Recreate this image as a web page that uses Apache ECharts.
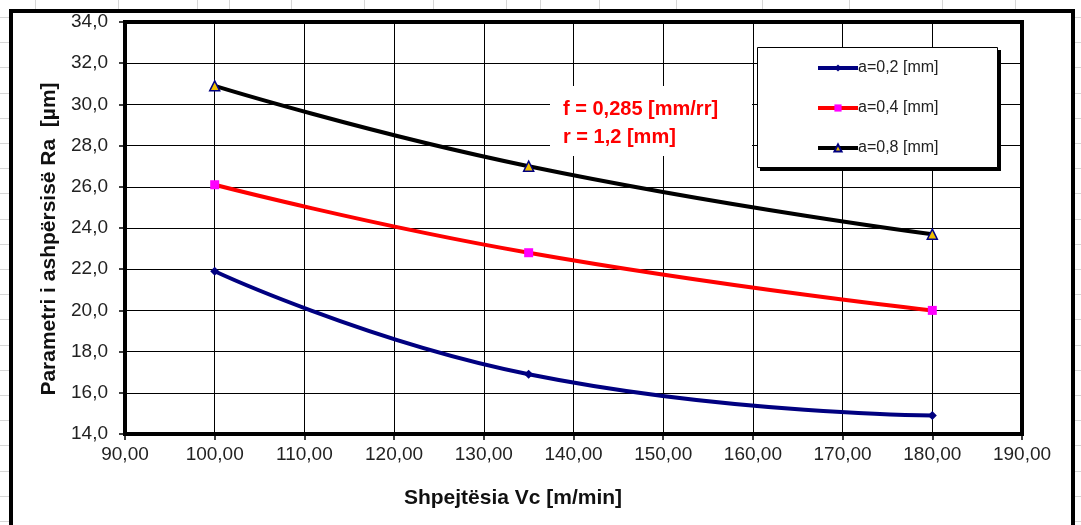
<!DOCTYPE html>
<html>
<head>
<meta charset="utf-8">
<script src="https://cdn.jsdelivr.net/npm/echarts@6/dist/echarts.min.js"></script>
<style>
html,body{margin:0;padding:0;background:#fff;}
#c{width:1081px;height:525px;}
</style>
</head>
<body>
<div id="c"></div>
<script>
// ---- data ----
var speeds = [100, 135, 180];
var seriesNames = ['a=0,2 [mm]', 'a=0,4 [mm]', 'a=0,8 [mm]'];
var ra02 = [21.9, 16.9, 14.9];
var ra04 = [26.1, 22.8, 20.0];
var ra08 = [30.9, 27.0, 23.7];
var xTitle = 'Shpejtësia Vc [m/min]';
var yTitle = 'Parametri i ashpërsisë Ra  [µm]';
var noteLines = ['f = 0,285 [mm/rr]', 'r = 1,2 [mm]'];

function pairs(ys){ return speeds.map(function(x,i){ return [x, ys[i]]; }); }

var chart = echarts.init(document.getElementById('c'));

// spreadsheet background lines (decoration)
var bg = [];
var vx = [35,118,197,229,291,364,433,506,540,599,676,762,849,942,1015];
vx.forEach(function(x){ bg.push({type:'line', z:-30, shape:{x1:x+0.5,y1:0,x2:x+0.5,y2:11}, style:{stroke:'#d6d6d6', lineWidth:1}}); });
for (var y = 17; y < 525; y += 25.2) {
  bg.push({type:'line', z:-30, shape:{x1:0,y1:Math.round(y)+0.5,x2:11,y2:Math.round(y)+0.5}, style:{stroke:'#d6d6d6', lineWidth:1}});
  bg.push({type:'line', z:-30, shape:{x1:1073,y1:Math.round(y)+0.5,x2:1081,y2:Math.round(y)+0.5}, style:{stroke:'#d6d6d6', lineWidth:1}});
}

var font = '"Liberation Sans", Arial, sans-serif';

chart.setOption({
  animation: false,
  backgroundColor: '#fff',
  grid: {left:125, top:22, right:59, bottom:91, show:true, borderColor:'#000', borderWidth:4, backgroundColor:'transparent'},
  xAxis: {
    type:'value', min:90, max:190, interval:10,
    axisLine:{show:true, lineStyle:{color:'#000', width:4}},
    axisTick:{show:true, length:6, lineStyle:{color:'#000', width:1.5}},
    splitLine:{show:true, lineStyle:{color:'#000', width:1}},
    axisLabel:{margin:11, color:'#222', fontSize:19, fontFamily:font,
      formatter:function(v){ return v.toFixed(2).replace('.', ','); }}
  },
  yAxis: {
    type:'value', min:14, max:34, interval:2,
    axisLine:{show:true, lineStyle:{color:'#000', width:4}},
    axisTick:{show:true, length:6, lineStyle:{color:'#000', width:1.5}},
    splitLine:{show:true, lineStyle:{color:'#000', width:1}},
    axisLabel:{margin:17, color:'#222', fontSize:19, fontFamily:font,
      formatter:function(v){ return v.toFixed(1).replace('.', ','); }}
  },
  legend: {
    orient:'vertical', left:811, top:55, itemWidth:40, itemHeight:9, itemGap:24,
    z: 50,
    lineStyle:{width:4},
    textStyle:{fontSize:16, color:'#222', fontFamily:font, padding:[0,0,0,-5]},
    data: seriesNames
  },
  graphic: bg.concat([
    {type:'rect', z:-20, shape:{x:11, y:11, width:1062, height:600}, style:{fill:'#fff', stroke:'#000', lineWidth:4}},
    {type:'rect', z:40, shape:{x:760, y:50, width:241, height:121}, style:{fill:'#000'}},
    {type:'rect', z:41, shape:{x:757.5, y:47.5, width:240, height:120}, style:{fill:'#fff', stroke:'#000', lineWidth:1}},
    {type:'rect', z:40, shape:{x:550, y:86, width:202, height:70}, style:{fill:'#fff'}},
    {type:'text', z:42, x:563, y:109, style:{text:noteLines[0], fill:'#ff0000', font:'bold 20px ' + font, verticalAlign:'middle'}},
    {type:'text', z:42, x:563, y:137, style:{text:noteLines[1], fill:'#ff0000', font:'bold 20px ' + font, verticalAlign:'middle'}},
    {type:'text', z:42, x:513, y:498, style:{text:xTitle, fill:'#111', font:'bold 21px ' + font, align:'center', verticalAlign:'middle'}},
    {type:'text', z:42, x:49, y:239, rotation:Math.PI/2, style:{text:yTitle, fill:'#111', font:'bold 21px ' + font, align:'center', verticalAlign:'middle'}}
  ]),
  series: [
    {name:seriesNames[0], type:'line', smooth:true, data:pairs(ra02),
      symbol:'diamond', symbolSize:9,
      lineStyle:{color:'#000080', width:4}, itemStyle:{color:'#000080'}},
    {name:seriesNames[1], type:'line', smooth:true, data:pairs(ra04),
      symbol:'rect', symbolSize:9,
      lineStyle:{color:'#ff0000', width:4}, itemStyle:{color:'#ff00ff'}},
    {name:seriesNames[2], type:'line', smooth:true, data:pairs(ra08),
      symbol:'triangle', symbolSize:10,
      lineStyle:{color:'#000000', width:4}, itemStyle:{color:'#f0c000', borderColor:'#000080', borderWidth:1.5}}
  ]
});
</script>
</body>
</html>
